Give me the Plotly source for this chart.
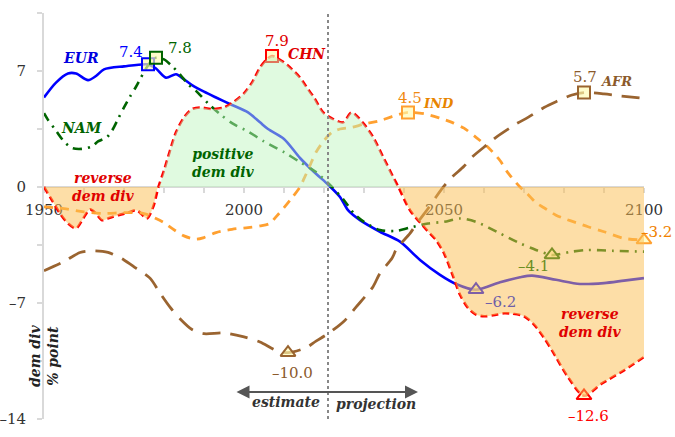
import plotly.graph_objects as go

# ---------------- data ----------------
eur_years = [1950, 1953, 1956, 1958, 1961, 1963, 1965, 1970, 1976, 1978, 1980.5, 1983, 1985, 1987, 1990,
             1993, 1997, 2001, 2004, 2006, 2010, 2014, 2018, 2021, 2024, 2026, 2029, 2034, 2039, 2044,
             2049, 2053, 2058, 2064, 2069, 2072, 2078, 2084, 2090, 2095, 2100]
eur_vals = [5.4, 6.3, 6.85, 6.85, 6.45, 6.7, 7.1, 7.28, 7.4, 7.15, 6.6, 6.8, 6.5, 6.15, 5.75,
            5.4, 4.95, 4.5, 3.9, 3.5, 2.9, 1.75, 0.8, 0.15, -0.6, -1.4, -2.0, -2.7, -3.3, -4.4,
            -5.3, -5.85, -6.2, -5.75, -5.45, -5.35, -5.6, -5.85, -5.8, -5.65, -5.5]

nam_years = [1950, 1951, 1953, 1955, 1957, 1959.5, 1962, 1963.5, 1965.7, 1967, 1968.5, 1970, 1971.5,
             1973, 1974, 1975.5, 1977, 1978, 1980, 1982, 1984, 1986, 1988, 1991, 1994, 1997, 2001,
             2005, 2010, 2014, 2018, 2022, 2025, 2027.5, 2030, 2034, 2038, 2041.5, 2046, 2050, 2054,
             2058, 2064, 2069, 2073, 2077, 2082, 2086, 2092, 2100]
nam_vals = [4.45, 4.05, 3.4, 2.75, 2.35, 2.3, 2.45, 2.75, 3.0, 3.4, 4.1, 4.8, 5.45,
            6.05, 6.5, 7.15, 7.65, 7.8, 7.7, 7.3, 6.8, 6.2, 5.8, 5.05, 4.4, 3.85, 3.35,
            2.75, 2.1, 1.5, 0.9, 0.0, -0.8, -1.6, -2.1, -2.6, -2.65, -2.45, -2.2, -2.1, -1.9,
            -2.1, -2.8, -3.4, -3.8, -4.1, -3.9, -3.8, -3.85, -3.9]

chn_years = [1950, 1952, 1954, 1956, 1958, 1959.8, 1961.5, 1963, 1964.5, 1966.5, 1968.6, 1971, 1973.2,
             1975.7, 1977.3, 1978.6, 1980, 1981.5, 1983, 1985, 1987, 1989, 1992, 1995, 1997.5, 2000,
             2002, 2004, 2005.7, 2007, 2009.8, 2012, 2014, 2016, 2017.5, 2019.8, 2022.3, 2024.8,
             2026.9, 2029.8, 2032.3, 2034.8, 2037.3, 2038.6, 2041.5, 2045.7, 2048, 2050, 2052.3,
             2054, 2056, 2058, 2060, 2062.3, 2065, 2067.3, 2070, 2072.5, 2075, 2077, 2081, 2085,
             2089.4, 2095, 2100]
chn_vals = [0.0, -0.8, -1.6, -2.2, -2.5, -1.9, -1.35, -1.6, -2.0, -1.85, -1.7, -1.55, -1.4,
            -1.9, -1.2, 0.0, 1.0, 2.2, 3.3, 4.2, 4.7, 4.8, 4.7, 4.8, 5.15, 5.65,
            6.3, 7.2, 7.7, 7.9, 7.55, 7.1, 6.6, 5.9, 5.4, 4.5, 4.1, 3.9,
            4.5, 3.85, 3.0, 1.8, 0.6, 0.0, -1.4, -2.6, -3.2, -4.0, -5.4,
            -6.5, -7.3, -7.7, -7.8, -7.74, -7.62, -7.65, -7.8, -8.3, -9.1, -9.86, -11.47, -12.6,
            -11.87, -11.06, -10.26]

ind_years = [1950, 1955, 1960, 1965, 1970, 1975, 1978, 1980, 1982, 1985, 1988, 1990, 1993, 1997,
             2001, 2004, 2006.5, 2008, 2010, 2012, 2014, 2015, 2016.5, 2018, 2020, 2022, 2024, 2027,
             2030, 2034, 2037, 2041, 2045, 2049, 2052, 2055, 2058, 2061, 2064, 2066, 2069, 2071,
             2073, 2075, 2078, 2080, 2083, 2086, 2090, 2095, 2100]
ind_vals = [-1.2, -1.3, -1.5, -1.6, -1.55, -1.6, -1.9, -2.15, -2.5, -2.95, -3.15, -3.05, -2.75, -2.55,
            -2.45, -2.35, -2.2, -1.8, -1.25, -0.65, 0.0, 0.5, 1.3, 2.1, 2.8, 3.3, 3.5, 3.6,
            3.8, 4.0, 4.25, 4.5, 4.42, 4.15, 3.9, 3.55, 3.0, 2.4, 1.6, 0.85, 0.0, -0.45,
            -0.95, -1.25, -1.7, -1.9, -2.15, -2.4, -2.7, -3.1, -3.2]

afr_years = [1950, 1955, 1959, 1962, 1966, 1970, 1973, 1976.5, 1979, 1981.5, 1984, 1987, 1990, 1995,
             2000, 2004, 2008, 2011, 2015.5, 2018, 2021, 2025, 2028, 2030.5, 2032.3, 2034, 2037,
             2038.2, 2041.5, 2043.2, 2045.7, 2048, 2050, 2052, 2055, 2057, 2061, 2063, 2068, 2071,
             2075, 2078, 2082, 2085, 2090, 2094, 2100]
afr_vals = [-5.05, -4.5, -3.95, -3.85, -3.95, -4.4, -4.9, -5.5, -6.4, -7.25, -7.95, -8.6, -8.85, -8.8,
            -9.05, -9.35, -9.85, -10.0, -9.7, -9.3, -8.85, -8.1, -7.25, -6.55, -6.0, -5.2, -4.3,
            -3.7, -2.8, -2.2, -1.4, -0.6, 0.05, 0.6, 1.25, 1.8, 2.6, 3.0, 3.8, 4.2,
            4.8, 5.15, 5.55, 5.7, 5.62, 5.5, 5.35]

y_tick_vals = [-14, -10.5, -7, -3.5, 0, 3.5, 7, 10.5]
y_tick_text = ["\u201314", "", "\u20137", "", "0", "", "7", ""]
x_tick_vals = list(range(1950, 2101, 10))
x_tick_text = [str(v) if v % 50 == 0 else "" for v in x_tick_vals]

FONT = "DejaVu Serif"
Y0, Y1 = -14, 10.5
SPLIT_YEAR = 2021

# ---------------- style per series ----------------
series = [
    dict(name="EUR", x=eur_years, y=eur_vals, color="#0000ff", dash="solid", width=2.6,
         maxlab=("#0000ff", -17, 12), minlab=("#6f5fa8", 24, -12)),
    dict(name="NAM", x=nam_years, y=nam_vals, color="#006400", dash="9px,6px,2px,6px", width=2.6,
         maxlab=("#006400", 24, 10), minlab=("#6b8e23", -19, -11)),
    dict(name="CHN", x=chn_years, y=chn_vals, color="#ff0000", dash="7px,4px", width=2.6,
         maxlab=("#e00000", 5, 15), minlab=("#ff0000", 4, -20)),
    dict(name="IND", x=ind_years, y=ind_vals, color="#ffa030", dash="9px,7px", width=2.8,
         maxlab=("#f08a10", 2, 14), minlab=("#f08000", 12, 8)),
    dict(name="AFR", x=afr_years, y=afr_vals, color="#9a6430", dash="18px,10px", width=2.8,
         maxlab=("#8b5a2b", 1, 16), minlab=("#8b5a2b", 4, -20)),
]

fig = go.Figure()

for s in series:
    fig.add_trace(go.Scatter(
        x=s["x"], y=s["y"], mode="lines",
        line=dict(color=s["color"], dash=s["dash"], width=s["width"], shape="spline", smoothing=0.8),
        hoverinfo="skip", cliponaxis=False))

for s in series:
    ys = s["y"]
    imax = max(range(len(ys)), key=lambda i: ys[i])
    imin = min(range(len(ys)), key=lambda i: ys[i])
    fig.add_trace(go.Scatter(
        x=[s["x"][imax]], y=[ys[imax]], mode="markers",
        marker=dict(symbol="square", size=12, color="rgba(255,250,175,0.65)",
                    line=dict(color=s["color"], width=2)),
        hoverinfo="skip", cliponaxis=False))
    fig.add_trace(go.Scatter(
        x=[s["x"][imin]], y=[ys[imin]], mode="markers",
        marker=dict(symbol="triangle-up", size=13, color="rgba(255,250,175,0.65)",
                    line=dict(color=s["color"], width=2)),
        hoverinfo="skip", cliponaxis=False))
    for idx, (col, dx, dy) in ((imax, s["maxlab"]), (imin, s["minlab"])):
        v = ys[idx]
        txt = f"{v:.1f}".replace("-", "\u2013")
        fig.add_annotation(x=s["x"][idx], y=v, text=txt, showarrow=False,
                           xshift=dx, yshift=dy,
                           font=dict(family=FONT, size=15, color=col))

# fills from the CHN curve (drawn over the lines, semi-transparent)
fx, fy = [], []
for i in range(len(chn_years)):
    if i > 0 and chn_vals[i - 1] * chn_vals[i] < 0:
        x0 = chn_years[i - 1] + (chn_years[i] - chn_years[i - 1]) * (0 - chn_vals[i - 1]) / (chn_vals[i] - chn_vals[i - 1])
        fx.append(x0)
        fy.append(0.0)
    fx.append(chn_years[i])
    fy.append(chn_vals[i])
pos = [max(v, 0.0) for v in fy]
neg = [min(v, 0.0) for v in fy]
fig.add_trace(go.Scatter(x=fx, y=pos, mode="lines", fill="tozeroy",
                         fillcolor="rgba(190,245,190,0.48)",
                         line=dict(width=0, shape="spline", smoothing=0.8), hoverinfo="skip"))
fig.add_trace(go.Scatter(x=fx, y=neg, mode="lines", fill="tozeroy",
                         fillcolor="rgba(252,190,80,0.5)",
                         line=dict(width=0, shape="spline", smoothing=0.8), hoverinfo="skip"))

fig.add_shape(type="line", x0=SPLIT_YEAR, x1=SPLIT_YEAR, y0=Y0, y1=Y1, xref="x", yref="y",
              line=dict(color="#888888", width=2, dash="dot"), layer="above")


def lab(x, y, text, color, size=14, bold=True, italic=True, **kw):
    fig.add_annotation(x=x, y=y, text=text, showarrow=False,
                       font=dict(family=FONT, size=size, color=color,
                                 weight="bold" if bold else "normal",
                                 style="italic" if italic else "normal"), **kw)


lab(1959.25, 7.8, "EUR", "#0000e0")
lab(1959.25, 3.54, "NAM", "#006400")
lab(2015.75, 8.04, "CHN", "#e00000")
lab(2048.6, 5.03, "IND", "#e88400", size=13)
lab(2092.9, 6.39, "AFR", "#8b5a2b", size=13)
lab(1964.75, 0.0, "reverse<br>dem div", "#e00000")
lab(1994.75, 1.46, "positive<br>dem div", "#006400")
lab(2086.5, -8.23, "reverse<br>dem div", "#e00000")
lab(2019.6, -12.98, "estimate", "#333333", xanchor="right")
lab(2022.4, -13.07, "projection", "#333333", xanchor="left")
lab(1950, -10.2, "dem div<br>% point", "#222222", textangle=-90)

fig.add_annotation(x=2043.5, y=-12.37, ax=1997.75, ay=-12.37, xref="x", yref="y",
                   axref="x", ayref="y", text="", showarrow=True, arrowhead=2,
                   startarrowhead=2, arrowside="end+start", arrowsize=1.3,
                   arrowwidth=2, arrowcolor="#555555")

fig.update_layout(
    width=675, height=437,
    margin=dict(l=44, r=31, t=13, b=18, autoexpand=False),
    plot_bgcolor="white", paper_bgcolor="white",
    showlegend=False, hovermode=False,
    xaxis=dict(range=[1950, 2100], anchor="free", position=(0 - Y0) / (Y1 - Y0),
               tickvals=x_tick_vals, ticktext=x_tick_text, ticks="outside", ticklen=5,
               tickwidth=1.5, tickcolor="#d9d9d9", showline=True, linecolor="#d9d9d9",
               linewidth=2, showgrid=False, zeroline=False, layer="below traces",
               ticklabelstandoff=4, automargin=False,
               tickfont=dict(family=FONT, size=15, color="#333333")),
    yaxis=dict(range=[Y0, Y1], tickvals=y_tick_vals, ticktext=y_tick_text,
               ticks="outside", ticklen=5, tickwidth=1.5, tickcolor="#d9d9d9",
               showline=True, linecolor="#d9d9d9", linewidth=2, showgrid=False,
               zeroline=False, layer="below traces", ticklabelstandoff=8, automargin=False,
               tickfont=dict(family=FONT, size=15, color="#333333")),
)

fig.write_html("out.html", config={"displayModeBar": False},
               post_script="document.body.style.margin='0';")
